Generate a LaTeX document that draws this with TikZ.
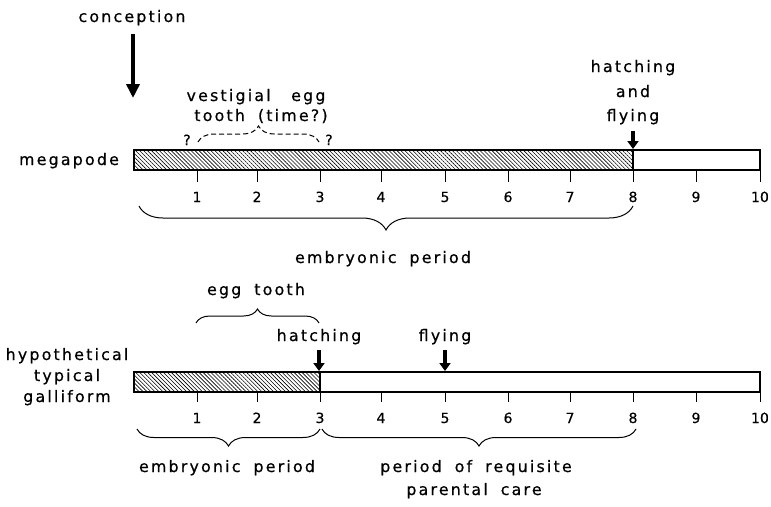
\documentclass[tikz,border=0pt]{standalone}
\usepackage{fontspec}
\setmainfont{DejaVu Sans}[LetterSpace=14, WordSpace=1.8, FakeBold=0.6]
\newfontfamily\numfont{DejaVu Sans}[FakeBold=0.5]
\usetikzlibrary{arrows.meta,patterns.meta,decorations.pathreplacing}
\begin{document}
\begin{tikzpicture}[x=1pt,y=-1pt,
  lbl/.style={font=\fontsize{15.8}{18}\selectfont, inner sep=0pt, anchor=base},
  num/.style={font=\numfont\fontsize{14}{16}\selectfont, inner sep=0pt, anchor=base},
  qm/.style={font=\numfont\fontsize{14}{16}\selectfont, inner sep=0pt, anchor=base},
  barbox/.style={draw, line width=1.2pt},
  hatch/.style={pattern={Lines[angle=-45,distance=2.8pt,line width=0.6pt]}},
  tickline/.style={line width=1pt},
  bigarrow/.style={line width=3.8pt, -{Triangle[width=13pt,length=14pt]}},
  smallarrow/.style={line width=3.2pt, -{Triangle[width=11pt,length=8pt]}},
  bracedown/.style={decorate, line width=1pt, decoration={brace, mirror, amplitude=#1}},
  braceup/.style={decorate, line width=1pt, decoration={brace, amplitude=#1}},
]
\useasboundingbox (0,0) rectangle (771,506);

% ---------- megapode ----------
\node[lbl] (megapode) at (69,165) {megapode};
\coordinate (mA) at (134,150);
\coordinate (mB) at (633,170);
\fill[hatch] (mA) rectangle (mB);
\draw[barbox] (mA) rectangle (760,170);
\draw[barbox] (633,150) -- (633,170);

\foreach \i/\x in {1/197,2/257,3/320,4/381,5/445,6/508,7/570,8/633,9/696,10/760}{
  \coordinate (mt\i) at (\x,170);
  \coordinate (mb\i) at (\x,182);
  \draw[tickline] (mt\i) -- (mb\i);
  \node[num] (mn\i) at (\x,202) {\i};
}

\node[lbl] (conception) at (132,22) {conception};
\coordinate (concS) at (133,34);
\coordinate (concE) at (133,98);
\draw[bigarrow] (concS) -- (concE);

\node[lbl] (vest) at (256,101) {vestigial\hspace{1.3em}egg};
\node[lbl] (tooth) at (261,121) {tooth (time?)};
\coordinate (dbL) at (198,142);
\coordinate (dbR) at (319,142);
\draw[braceup=16pt, dashed, dash pattern=on 5pt off 3pt] (dbL) -- (dbR);
\node[qm] (q1) at (187,145) {?};
\node[qm] (q2) at (329,145) {?};

\node[lbl] (hat1) at (633,72) {hatching};
\node[lbl] (and1) at (633,97) {and};
\node[lbl] (fly1) at (633,121) {flying};
\coordinate (haS) at (633,131);
\coordinate (haE) at (633,149);
\draw[smallarrow] (haS) -- (haE);

\coordinate (ebL) at (139,206);
\coordinate (ebR) at (633,206);
\draw[bracedown=24pt] (ebL) -- (ebR);
\node[lbl] (emb1) at (383,263) {embryonic period};

% ---------- galliform ----------
\node[lbl] (hyp) at (67,360) {hypothetical};
\node[lbl] (typ) at (67,381) {typical};
\node[lbl] (gal) at (67,402) {galliform};

\coordinate (gA) at (134,372);
\coordinate (gB) at (320,392);
\fill[hatch] (gA) rectangle (gB);
\draw[barbox] (gA) rectangle (760,392);
\draw[barbox] (320,372) -- (320,392);

\foreach \i/\x in {1/197,2/257,3/320,4/381,5/445,6/508,7/570,8/633,9/696,10/760}{
  \coordinate (gt\i) at (\x,392);
  \coordinate (gb\i) at (\x,402);
  \draw[tickline] (gt\i) -- (gb\i);
  \node[num] (gn\i) at (\x,423) {\i};
}

\node[lbl] (eggtooth) at (256,295) {egg tooth};
\coordinate (etL) at (196,323);
\coordinate (etR) at (319,323);
\draw[braceup=14pt] (etL) -- (etR);

\node[lbl] (hat2) at (319,341) {hatching};
\coordinate (h2S) at (319,350);
\coordinate (h2E) at (319,371);
\draw[smallarrow] (h2S) -- (h2E);

\node[lbl] (fly2) at (445,341) {flying};
\coordinate (f2S) at (445,350);
\coordinate (f2E) at (445,371);
\draw[smallarrow] (f2S) -- (f2E);

\coordinate (b1L) at (137,429);
\coordinate (b1R) at (320,429);
\draw[bracedown=17pt] (b1L) -- (b1R);
\coordinate (b2L) at (322,429);
\coordinate (b2R) at (636,429);
\draw[bracedown=17pt] (b2L) -- (b2R);

\node[lbl] (emb2) at (227,472) {embryonic period};
\node[lbl] (req) at (476,472) {period of requisite};
\node[lbl] (par) at (474,495) {parental care};
\end{tikzpicture}
\end{document}
